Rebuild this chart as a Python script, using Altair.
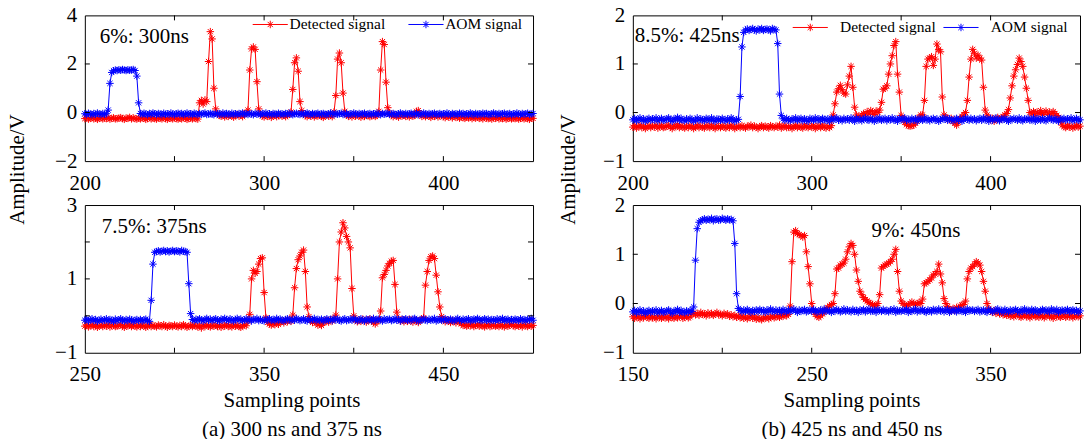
import altair as alt
import pandas as pd

FONT = "Liberation Serif"
RED = "#ff0000"
BLUE = "#0000ff"
SERIES = ["Detected signal", "AOM signal"]
STAR = "M-1,0L1,0M0,-1L0,1M-0.7,-0.7L0.7,0.7M-0.7,0.7L0.7,-0.7"
LEGSYM = "M-4.7,0L4.7,0M0,-1L0,1M-0.7,-0.7L0.7,0.7M-0.7,0.7L0.7,-0.7"

# ---------------- data (sampling point start + one value per sample) ----------------
a_top_x0 = 200
a_top_red = [
    -0.25, -0.22, -0.27, -0.24, -0.21, -0.26, -0.23, -0.28, -0.24, -0.22,
    -0.26, -0.23, -0.25, -0.21, -0.27, -0.24, -0.22, -0.26, -0.25, -0.23,
    -0.21, -0.25, -0.28, -0.23, -0.24, -0.20, -0.26, -0.22, -0.25, -0.27,
    -0.23, -0.26, -0.22, -0.24, -0.28, -0.25, -0.21, -0.26, -0.23, -0.25,
    -0.27, -0.22, -0.24, -0.26, -0.21, -0.25, -0.28, -0.23, -0.24, -0.26,
    -0.22, -0.25, -0.27, -0.23, -0.26, -0.21, -0.24, -0.28, -0.25, -0.23,
    -0.26, -0.22, -0.25, -0.27, 0.40, 0.50, 0.35, 0.52, 0.45, 2.10,
    3.33, 3.03, 1.00, 0.15, -0.05, -0.12, -0.15, -0.10, -0.18, -0.13,
    -0.16, -0.10, -0.14, -0.19, -0.12, -0.08, -0.15, -0.11, -0.17, -0.05,
    -0.02, 0.10, 1.75, 2.62, 2.70, 2.60, 1.27, 0.15, -0.08, -0.14,
    -0.18, -0.12, -0.16, -0.10, -0.20, -0.14, -0.11, -0.17, -0.13, -0.09,
    -0.15, -0.11, -0.17, -0.12, -0.08, 0.02, 0.95, 2.05, 2.25, 1.70,
    0.45, 0.08, -0.06, -0.13, -0.17, -0.11, -0.15, -0.09, -0.18, -0.12,
    -0.14, -0.10, -0.16, -0.20, -0.13, -0.09, -0.15, -0.12, -0.17, 0.02,
    0.70, 2.20, 2.45, 2.05, 0.80, 0.05, -0.10, -0.16, -0.12, -0.18,
    -0.11, -0.15, -0.09, -0.14, -0.19, -0.12, -0.16, -0.10, -0.13, -0.17,
    -0.14, -0.10, -0.16, -0.12, 0.05, 1.75, 2.92, 2.80, 1.25, 0.20,
    -0.02, -0.12, -0.17, -0.10, -0.15, -0.19, -0.11, -0.14, -0.09, -0.16,
    -0.13, -0.18, -0.10, -0.15, -0.12, 0.05, 0.08, -0.08, -0.16, -0.12,
    -0.17, -0.11, -0.15, -0.20, -0.13, -0.16, -0.10, -0.18, -0.14, -0.12,
    -0.17, -0.21, -0.14, -0.19, -0.16, -0.22, -0.15, -0.20, -0.18, -0.23,
    -0.17, -0.21, -0.24, -0.19, -0.22, -0.18, -0.25, -0.20, -0.23, -0.19,
    -0.24, -0.21, -0.26, -0.20, -0.23, -0.25, -0.21, -0.27, -0.22, -0.24,
    -0.20, -0.26, -0.23, -0.25, -0.21, -0.27, -0.24, -0.22, -0.26, -0.23,
    -0.25, -0.21, -0.27, -0.24, -0.22, -0.26, -0.23, -0.25, -0.28, -0.22,
    -0.24,
]
a_top_blue = [
    -0.05, -0.08, -0.03, -0.06, -0.09, -0.04, -0.07, -0.02, -0.06, -0.08,
    -0.04, -0.07, -0.05, 0.10, 1.20, 1.65, 1.72, 1.75, 1.73, 1.76,
    1.74, 1.77, 1.75, 1.73, 1.76, 1.74, 1.75, 1.77, 1.73, 1.50,
    0.40, -0.04, -0.07, -0.03, -0.06, -0.09, -0.04, -0.07, -0.02, -0.05,
    -0.08, -0.04, -0.06, -0.09, -0.03, -0.07, -0.05, -0.08, -0.02, -0.06,
    -0.09, -0.05, -0.03, -0.07, -0.04, -0.08, -0.06, -0.02, -0.07, -0.05,
    -0.08, -0.03, -0.06, -0.09, -0.04, -0.07, -0.05, -0.02, -0.08, -0.06,
    -0.04, -0.07, -0.09, -0.03, -0.06, -0.05, -0.08, -0.02, -0.07, -0.04,
    -0.06, -0.09, -0.03, -0.07, -0.05, -0.08, -0.04, -0.06, -0.02, -0.07,
    -0.05, -0.08, -0.04, -0.06, -0.09, -0.03, -0.07, -0.05, -0.08, -0.04,
    -0.06, -0.02, -0.07, -0.05, -0.09, -0.04, -0.06, -0.08, -0.03, -0.07,
    -0.05, -0.08, -0.04, -0.06, -0.02, -0.07, -0.09, -0.05, -0.03, -0.06,
    -0.08, -0.04, -0.07, -0.05, -0.02, -0.06, -0.09, -0.04, -0.07, -0.05,
    -0.03, -0.08, -0.06, -0.04, -0.07, -0.09, -0.05, -0.02, -0.06, -0.08,
    -0.04, -0.07, -0.05, -0.03, -0.08, -0.06, -0.04, -0.09, -0.05, -0.07,
    -0.02, -0.06, -0.08, -0.04, -0.07, -0.05, -0.03, -0.09, -0.06, -0.04,
    -0.08, -0.05, -0.07, -0.02, -0.06, -0.09, -0.04, -0.07, -0.05, -0.03,
    -0.08, -0.06, -0.04, -0.07, -0.09, -0.05, -0.02, -0.06, -0.08, -0.04,
    -0.07, -0.05, -0.03, -0.08, -0.06, -0.04, -0.09, -0.05, -0.07, -0.02,
    -0.06, -0.08, -0.04, -0.07, -0.05, -0.03, -0.09, -0.06, -0.04, -0.08,
    -0.05, -0.07, -0.02, -0.06, -0.09, -0.04, -0.07, -0.05, -0.08, -0.03,
    -0.06, -0.04, -0.08, -0.05, -0.07, -0.02, -0.06, -0.09, -0.04, -0.07,
    -0.05, -0.08, -0.03, -0.06, -0.04, -0.07, -0.09, -0.05, -0.02, -0.06,
    -0.08, -0.04, -0.07, -0.05, -0.03, -0.08, -0.06, -0.04, -0.09, -0.05,
    -0.07, -0.02, -0.06, -0.08, -0.04, -0.07, -0.05, -0.03, -0.08, -0.06,
    -0.04,
]

a_bot_x0 = 250
a_bot_red = [
    -0.28, -0.25, -0.30, -0.27, -0.24, -0.29, -0.26, -0.31, -0.27, -0.25,
    -0.29, -0.26, -0.28, -0.24, -0.30, -0.27, -0.25, -0.29, -0.28, -0.26,
    -0.24, -0.28, -0.31, -0.26, -0.27, -0.23, -0.29, -0.25, -0.28, -0.30,
    -0.26, -0.29, -0.25, -0.27, -0.31, -0.28, -0.24, -0.29, -0.26, -0.28,
    -0.30, -0.25, -0.27, -0.29, -0.24, -0.28, -0.31, -0.26, -0.27, -0.29,
    -0.25, -0.28, -0.30, -0.26, -0.29, -0.24, -0.27, -0.31, -0.28, -0.26,
    -0.29, -0.25, -0.28, -0.30, -0.27, -0.33, -0.26, -0.29, -0.24, -0.28,
    -0.30, -0.26, -0.28, -0.25, -0.29, -0.27, -0.31, -0.26, -0.28, -0.24,
    -0.29, -0.27, -0.30, -0.25, -0.28, -0.26, -0.29, -0.31, -0.27, -0.25,
    -0.27, -0.15, 0.04, 1.00, 1.23, 1.15, 1.20, 1.40, 1.55, 1.57,
    0.63, -0.05, -0.18, -0.22, -0.25, -0.21, -0.24, -0.19, -0.23, -0.17,
    -0.14, -0.19, -0.12, -0.16, -0.10, -0.15, 0.02, 0.76, 1.28, 1.52,
    1.62, 1.72, 1.78, 1.20, 0.24, -0.02, -0.12, -0.18, -0.14, -0.20,
    -0.25, -0.22, -0.26, -0.19, -0.15, -0.12, -0.17, -0.10, -0.14, -0.08,
    0.02, 1.00, 2.00, 2.27, 2.52, 2.38, 2.15, 2.00, 1.84, 0.74,
    0.00, -0.12, -0.16, -0.11, -0.15, -0.09, -0.13, -0.17, -0.12, -0.08,
    -0.14, -0.18, -0.22, -0.16, -0.11, 0.13, 1.03, 1.12, 1.23, 1.35,
    1.42, 1.48, 1.50, 0.85, 0.10, -0.08, -0.14, -0.10, -0.16, -0.12,
    -0.15, -0.09, -0.13, -0.17, -0.11, -0.14, -0.18, -0.12, -0.10, -0.05,
    0.83, 1.20, 1.50, 1.60, 1.62, 1.55, 1.10, 0.65, 0.24, -0.02,
    -0.12, -0.16, -0.11, -0.14, -0.18, -0.12, -0.15, -0.19, -0.13, -0.17,
    -0.22, -0.26, -0.24, -0.28, -0.25, -0.27, -0.23, -0.29, -0.26, -0.24,
    -0.28, -0.25, -0.27, -0.30, -0.26, -0.24, -0.29, -0.27, -0.25, -0.28,
    -0.26, -0.29, -0.24, -0.27, -0.30, -0.25, -0.28, -0.26, -0.23, -0.27,
    -0.29, -0.25, -0.28, -0.26, -0.30, -0.24, -0.27, -0.29, -0.25, -0.28,
    -0.26,
]
a_bot_blue = [
    -0.12, -0.09, -0.14, -0.11, -0.08, -0.13, -0.10, -0.15, -0.12, -0.09,
    -0.13, -0.11, -0.08, -0.14, -0.10, -0.12, -0.15, -0.09, -0.13, -0.11,
    -0.08, -0.12, -0.14, -0.10, -0.13, -0.09, -0.11, -0.15, -0.12, -0.10,
    -0.13, -0.10, -0.14, -0.11, -0.09, -0.13, -0.15, 0.42, 1.40, 1.72,
    1.74, 1.76, 1.73, 1.75, 1.77, 1.74, 1.76, 1.73, 1.75, 1.77,
    1.74, 1.76, 1.75, 1.73, 1.77, 1.75, 1.74, 1.72, 0.87, 0.06,
    -0.10, -0.13, -0.09, -0.12, -0.08, -0.11, -0.14, -0.10, -0.07, -0.12,
    -0.09, -0.13, -0.10, -0.08, -0.12, -0.14, -0.09, -0.11, -0.07, -0.10,
    -0.13, -0.08, -0.11, -0.14, -0.10, -0.07, -0.12, -0.09, -0.13, -0.11,
    -0.08, -0.12, -0.10, -0.14, -0.09, -0.11, -0.07, -0.13, -0.10, -0.12,
    -0.14, -0.09, -0.11, -0.08, -0.12, -0.10, -0.13, -0.07, -0.11, -0.09,
    -0.12, -0.14, -0.10, -0.08, -0.11, -0.13, -0.09, -0.12, -0.07, -0.10,
    -0.13, -0.11, -0.08, -0.12, -0.14, -0.09, -0.11, -0.10, -0.07, -0.13,
    -0.10, -0.12, -0.09, -0.14, -0.11, -0.08, -0.12, -0.10, -0.13, -0.07,
    -0.11, -0.09, -0.12, -0.14, -0.10, -0.08, -0.13, -0.11, -0.09, -0.12,
    -0.07, -0.10, -0.13, -0.11, -0.08, -0.12, -0.14, -0.09, -0.11, -0.10,
    -0.13, -0.07, -0.12, -0.10, -0.09, -0.11, -0.14, -0.08, -0.12, -0.10,
    -0.09, -0.13, -0.11, -0.07, -0.12, -0.10, -0.14, -0.09, -0.11, -0.08,
    -0.12, -0.10, -0.13, -0.09, -0.07, -0.11, -0.14, -0.10, -0.12, -0.08,
    -0.11, -0.13, -0.09, -0.12, -0.10, -0.07, -0.14, -0.11, -0.09, -0.12,
    -0.10, -0.08, -0.13, -0.11, -0.09, -0.12, -0.14, -0.10, -0.07, -0.11,
    -0.13, -0.09, -0.12, -0.10, -0.08, -0.14, -0.11, -0.09, -0.12, -0.07,
    -0.10, -0.13, -0.11, -0.08, -0.12, -0.09, -0.14, -0.10, -0.11, -0.13,
    -0.08, -0.12, -0.10, -0.07, -0.13, -0.11, -0.09, -0.14, -0.10, -0.12,
    -0.09, -0.11, -0.13, -0.08, -0.12, -0.10, -0.14, -0.09, -0.11, -0.07,
    -0.12,
]

b_top_x0 = 200
b_top_red = [
    -0.30, -0.27, -0.32, -0.29, -0.26, -0.31, -0.28, -0.33, -0.29, -0.27,
    -0.31, -0.28, -0.30, -0.26, -0.32, -0.29, -0.27, -0.31, -0.30, -0.28,
    -0.26, -0.30, -0.33, -0.28, -0.29, -0.25, -0.31, -0.27, -0.30, -0.32,
    -0.28, -0.31, -0.27, -0.29, -0.33, -0.30, -0.26, -0.31, -0.28, -0.30,
    -0.32, -0.27, -0.29, -0.31, -0.26, -0.30, -0.33, -0.28, -0.29, -0.31,
    -0.27, -0.30, -0.32, -0.28, -0.31, -0.26, -0.29, -0.33, -0.30, -0.28,
    -0.31, -0.27, -0.30, -0.32, -0.28, -0.29, -0.26, -0.31, -0.28, -0.30,
    -0.33, -0.29, -0.27, -0.31, -0.28, -0.30, -0.32, -0.27, -0.29, -0.31,
    -0.28, -0.30, -0.26, -0.32, -0.29, -0.27, -0.31, -0.30, -0.28, -0.33,
    -0.29, -0.27, -0.31, -0.28, -0.30, -0.32, -0.26, -0.29, -0.31, -0.28,
    -0.30, -0.27, -0.33, -0.29, -0.28, -0.31, -0.26, -0.30, -0.32, -0.28,
    -0.31, -0.27, -0.05, 0.18, 0.42, 0.49, 0.56, 0.47, 0.40, 0.38,
    0.57, 0.75, 0.95, 0.52, 0.11, -0.05, -0.08, -0.12, -0.06, -0.02,
    -0.05, 0.02, -0.03, 0.04, 0.01, -0.04, 0.03, 0.00, 0.05, 0.21,
    0.48, 0.50, 0.55, 0.79, 1.00, 1.17, 1.38, 1.46, 0.79, 0.42,
    -0.06, -0.12, -0.20, -0.25, -0.27, -0.28, -0.27, -0.26, -0.22, -0.15,
    -0.10, -0.05, -0.05, 0.25, 0.95, 1.10, 1.12, 1.15, 0.97, 1.10,
    1.41, 1.30, 1.25, 0.32, -0.05, -0.10, -0.12, -0.15, -0.12, -0.18,
    -0.22, -0.26, -0.20, -0.12, -0.08, -0.05, 0.00, 0.25, 0.73, 1.10,
    1.30, 1.22, 1.12, 1.18, 1.12, 1.08, 0.52, 0.05, -0.05, -0.10,
    -0.15, -0.12, -0.18, -0.14, -0.10, -0.16, -0.12, -0.08, -0.05, -0.02,
    0.06, 0.30, 0.55, 0.75, 0.88, 0.99, 1.12, 1.05, 0.95, 0.73,
    0.50, 0.25, 0.00, -0.03, 0.02, -0.05, 0.01, -0.02, 0.04, -0.04,
    0.00, 0.03, -0.03, 0.01, -0.05, 0.02, -0.02, -0.06, -0.10, -0.18,
    -0.26, -0.29, -0.31, -0.27, -0.30, -0.28, -0.32, -0.29, -0.27, -0.30,
    -0.28,
]
b_top_blue = [
    -0.15, -0.12, -0.17, -0.14, -0.11, -0.16, -0.13, -0.18, -0.14, -0.12,
    -0.16, -0.13, -0.15, -0.11, -0.17, -0.14, -0.12, -0.16, -0.15, -0.13,
    -0.11, -0.15, -0.18, -0.13, -0.14, -0.10, -0.16, -0.12, -0.15, -0.17,
    -0.13, -0.16, -0.12, -0.14, -0.18, -0.15, -0.11, -0.16, -0.13, -0.15,
    -0.17, -0.12, -0.14, -0.16, -0.11, -0.15, -0.18, -0.13, -0.14, -0.16,
    -0.12, -0.15, -0.17, -0.13, -0.16, -0.11, -0.14, -0.18, -0.15, -0.14,
    0.33, 1.35, 1.65, 1.70, 1.72, 1.69, 1.71, 1.73, 1.70, 1.68,
    1.72, 1.70, 1.73, 1.69, 1.71, 1.72, 1.70, 1.68, 1.73, 1.71,
    1.70, 1.42, 0.38, -0.06, -0.13, -0.16, -0.12, -0.15, -0.17, -0.13,
    -0.15, -0.11, -0.16, -0.14, -0.12, -0.17, -0.13, -0.15, -0.18, -0.12,
    -0.14, -0.16, -0.11, -0.15, -0.13, -0.17, -0.12, -0.14, -0.16, -0.13,
    -0.18, -0.12, -0.15, -0.13, -0.11, -0.16, -0.14, -0.17, -0.12, -0.15,
    -0.13, -0.16, -0.11, -0.14, -0.18, -0.12, -0.15, -0.13, -0.17, -0.14,
    -0.11, -0.15, -0.16, -0.12, -0.14, -0.18, -0.13, -0.15, -0.11, -0.16,
    -0.14, -0.12, -0.17, -0.13, -0.15, -0.11, -0.16, -0.14, -0.18, -0.12,
    -0.15, -0.13, -0.11, -0.16, -0.14, -0.17, -0.12, -0.15, -0.13, -0.18,
    -0.12, -0.14, -0.16, -0.11, -0.15, -0.13, -0.17, -0.14, -0.12, -0.16,
    -0.13, -0.18, -0.15, -0.12, -0.14, -0.11, -0.16, -0.13, -0.15, -0.17,
    -0.14, -0.12, -0.16, -0.13, -0.18, -0.15, -0.11, -0.14, -0.16, -0.12,
    -0.15, -0.13, -0.17, -0.14, -0.12, -0.16, -0.11, -0.15, -0.13, -0.18,
    -0.12, -0.16, -0.14, -0.11, -0.15, -0.17, -0.13, -0.14, -0.12, -0.16,
    -0.18, -0.13, -0.15, -0.12, -0.14, -0.16, -0.11, -0.15, -0.17, -0.13,
    -0.14, -0.12, -0.16, -0.15, -0.11, -0.18, -0.13, -0.14, -0.16, -0.12,
    -0.15, -0.17, -0.13, -0.11, -0.14, -0.16, -0.12, -0.15, -0.18, -0.13,
    -0.14, -0.12, -0.16, -0.13, -0.15, -0.11, -0.17, -0.14, -0.12, -0.16,
    -0.15,
]

b_bot_x0 = 150
b_bot_red = [
    -0.27, -0.30, -0.25, -0.28, -0.31, -0.26, -0.29, -0.24, -0.28, -0.30,
    -0.26, -0.29, -0.27, -0.31, -0.25, -0.28, -0.30, -0.26, -0.29, -0.27,
    -0.31, -0.25, -0.28, -0.30, -0.26, -0.29, -0.27, -0.24, -0.30, -0.28,
    -0.26, -0.29, -0.27, -0.22, -0.19, -0.23, -0.20, -0.24, -0.18, -0.22,
    -0.21, -0.25, -0.19, -0.23, -0.20, -0.24, -0.21, -0.18, -0.23, -0.22,
    -0.25, -0.20, -0.24, -0.21, -0.26, -0.23, -0.27, -0.24, -0.28, -0.25,
    -0.29, -0.26, -0.30, -0.27, -0.31, -0.28, -0.25, -0.30, -0.27, -0.32,
    -0.28, -0.31, -0.33, -0.29, -0.30, -0.27, -0.31, -0.28, -0.26, -0.29,
    -0.27, -0.25, -0.28, -0.24, -0.26, -0.23, -0.25, -0.22, -0.05, 0.85,
    1.45, 1.48, 1.42, 1.40, 1.38, 1.35, 1.38, 1.05, 0.75, 0.40,
    0.00, -0.15, -0.22, -0.26, -0.28, -0.25, -0.21, -0.17, -0.12, -0.08,
    -0.05, -0.02, 0.00, 0.20, 0.70, 0.72, 0.78, 0.80, 0.82, 0.90,
    1.05, 1.15, 1.22, 1.18, 1.00, 0.68, 0.45, 0.25, 0.18, 0.12,
    0.08, 0.05, 0.02, 0.00, -0.02, -0.05, -0.04, 0.00, 0.18, 0.72,
    0.75, 0.78, 0.80, 0.82, 0.85, 0.90, 1.00, 1.10, 0.65, 0.25,
    0.05, 0.00, -0.03, -0.05, -0.03, 0.00, 0.03, 0.00, -0.02, 0.00,
    0.02, 0.00, 0.09, 0.40, 0.42, 0.45, 0.48, 0.52, 0.58, 0.60,
    0.65, 0.80, 0.60, 0.42, 0.10, 0.00, -0.06, -0.12, -0.15, -0.10,
    -0.14, -0.08, -0.12, -0.05, -0.03, -0.02, 0.05, 0.50, 0.65, 0.72,
    0.75, 0.80, 0.85, 0.82, 0.78, 0.65, 0.45, 0.25, 0.00, -0.10,
    -0.15, -0.18, -0.14, -0.20, -0.17, -0.21, -0.19, -0.23, -0.20, -0.24,
    -0.22, -0.26, -0.23, -0.27, -0.24, -0.21, -0.26, -0.28, -0.25, -0.23,
    -0.27, -0.24, -0.29, -0.25, -0.22, -0.27, -0.25, -0.28, -0.24, -0.26,
    -0.29, -0.25, -0.23, -0.27, -0.26, -0.30, -0.24, -0.27, -0.25, -0.28,
    -0.26, -0.23, -0.28, -0.25, -0.27, -0.24, -0.29, -0.26, -0.25, -0.27,
    -0.25,
]
b_bot_blue = [
    -0.17, -0.14, -0.19, -0.16, -0.13, -0.18, -0.15, -0.20, -0.16, -0.14,
    -0.18, -0.15, -0.17, -0.13, -0.19, -0.16, -0.14, -0.18, -0.17, -0.15,
    -0.13, -0.17, -0.20, -0.15, -0.16, -0.12, -0.18, -0.14, -0.17, -0.19,
    -0.15, -0.18, -0.14, -0.16, -0.07, 0.88, 1.52, 1.65, 1.68, 1.70,
    1.72, 1.69, 1.71, 1.70, 1.73, 1.68, 1.71, 1.72, 1.69, 1.70,
    1.73, 1.71, 1.69, 1.72, 1.70, 1.71, 1.68, 1.22, 0.20, -0.10,
    -0.14, -0.17, -0.13, -0.16, -0.12, -0.15, -0.18, -0.14, -0.16, -0.13,
    -0.17, -0.12, -0.15, -0.14, -0.18, -0.13, -0.16, -0.11, -0.15, -0.17,
    -0.13, -0.16, -0.14, -0.18, -0.12, -0.15, -0.17, -0.13, -0.16, -0.14,
    -0.11, -0.15, -0.18, -0.13, -0.16, -0.14, -0.12, -0.17, -0.15, -0.13,
    -0.16, -0.12, -0.14, -0.18, -0.15, -0.13, -0.17, -0.11, -0.16, -0.14,
    -0.15, -0.18, -0.13, -0.16, -0.12, -0.14, -0.17, -0.15, -0.11, -0.16,
    -0.13, -0.15, -0.17, -0.12, -0.16, -0.14, -0.18, -0.13, -0.15, -0.12,
    -0.17, -0.14, -0.11, -0.16, -0.15, -0.13, -0.18, -0.12, -0.14, -0.16,
    -0.12, -0.16, -0.14, -0.17, -0.13, -0.15, -0.11, -0.18, -0.14, -0.15,
    -0.16, -0.13, -0.15, -0.12, -0.18, -0.14, -0.16, -0.13, -0.11, -0.17,
    -0.14, -0.15, -0.12, -0.16, -0.18, -0.13, -0.15, -0.17, -0.12, -0.14,
    -0.16, -0.11, -0.15, -0.13, -0.17, -0.14, -0.12, -0.18, -0.15, -0.13,
    -0.15, -0.17, -0.12, -0.14, -0.16, -0.13, -0.18, -0.11, -0.15, -0.14,
    -0.13, -0.16, -0.14, -0.12, -0.17, -0.15, -0.13, -0.16, -0.18, -0.12,
    -0.14, -0.17, -0.15, -0.13, -0.11, -0.16, -0.14, -0.18, -0.12, -0.15,
    -0.17, -0.13, -0.16, -0.14, -0.12, -0.15, -0.18, -0.13, -0.16, -0.11,
    -0.15, -0.14, -0.17, -0.12, -0.16, -0.13, -0.15, -0.18, -0.14, -0.12,
    -0.16, -0.13, -0.15, -0.17, -0.11, -0.14, -0.16, -0.12, -0.18, -0.15,
    -0.13, -0.16, -0.14, -0.12, -0.17, -0.15, -0.13, -0.16, -0.14, -0.18,
    -0.15,
]

# axis settings per panel: domains, labelled values, interior tick marks
a_top_xdom, a_top_ydom = [200, 450], [-2, 4]
a_bot_xdom, a_bot_ydom = [250, 500], [-1, 3]
b_top_xdom, b_top_ydom = [200, 450], [-1, 2]
b_bot_xdom, b_bot_ydom = [150, 400], [-1, 2]
a_top_xlab, a_top_ylab = [200, 300, 400], [-2, 0, 2, 4]
a_bot_xlab, a_bot_ylab = [250, 350, 450], [-1, 1, 3]
b_top_xlab, b_top_ylab = [200, 300, 400], [-1, 0, 1, 2]
b_bot_xlab, b_bot_ylab = [150, 250, 350], [-1, 0, 1, 2]
a_top_xtk, a_top_ytk = [250, 300, 350, 400], [0, 2]
a_bot_xtk, a_bot_ytk = [300, 350, 400, 450], [0, 1, 2]
b_top_xtk, b_top_ytk = [250, 300, 350, 400], [0, 1]
b_bot_xtk, b_bot_ytk = [200, 250, 300, 350], [0, 1]

notes = ["6%: 300ns", "7.5%: 375ns", "8.5%: 425ns", "9%: 450ns"]
captions = ["(a) 300 ns and 375 ns", "(b) 425 ns and 450 ns"]
Y_TITLE = "Amplitude/V"
X_TITLE = "Sampling points"

W_A, W_B = 449, 448
H_TOP, H_BOT = 146, 148
TICK = 5
FS = 21
MSIZE = 56


def to_frame(x0, red, blue):
    rows = []
    for i, v in enumerate(red):
        rows.append({"x": x0 + i, "y": v, "s": SERIES[0]})
    for i, v in enumerate(blue):
        rows.append({"x": x0 + i, "y": v, "s": SERIES[1]})
    return pd.DataFrame(rows)


def panel(df, W, H, xdom, ydom, xlab, ylab, xtk, ytk, note, note_xy,
          legend=None, ytitle_x=None, xtitle=None, xtitle_x=None):
    xscale = alt.Scale(domain=xdom, nice=False, zero=False)
    yscale = alt.Scale(domain=ydom, nice=False, zero=False)
    common = dict(ticks=False, tickSize=0, domain=False, grid=False,
                  labelFont=FONT, labelFontSize=FS, labelColor="black",
                  labelFlush=False, labelOverlap=False, format="d")
    if xtitle is not None:
        xaxis = alt.Axis(values=xlab, labelPadding=11, title=xtitle,
                         titleFont=FONT, titleFontSize=FS, titleFontWeight="normal",
                         titleColor="black", titleX=xtitle_x, titleY=37,
                         titleBaseline="top", titleAlign="center", titleLineHeight=29,
                         **common)
    else:
        xaxis = alt.Axis(values=xlab, labelPadding=11, title=None, **common)
    if ytitle_x is not None:
        yaxis = alt.Axis(values=ylab, labelPadding=8, title=Y_TITLE,
                         titleFont=FONT, titleFontSize=FS, titleFontWeight="normal",
                         titleColor="black", titleX=ytitle_x, titleY=154,
                         titleAngle=270, titleBaseline="bottom", titleAlign="center",
                         **common)
    else:
        yaxis = alt.Axis(values=ylab, labelPadding=8, title=None, **common)

    X = alt.X("x:Q", scale=xscale, axis=xaxis)
    Y = alt.Y("y:Q", scale=yscale, axis=yaxis)
    C = alt.Color("s:N", scale=alt.Scale(domain=SERIES, range=[RED, BLUE]), legend=legend)

    base = alt.Chart(df)
    layers = []
    for name in SERIES:
        sub = base.transform_filter(alt.datum.s == name)
        layers.append(sub.mark_line(strokeWidth=1).encode(x=X, y=Y, color=C))
        layers.append(sub.mark_point(shape=STAR, filled=False, size=MSIZE, strokeWidth=1,
                                     opacity=1).encode(x=X, y=Y, color=C))

    # inward tick marks on all four edges, placed through the same scales
    xt = alt.Chart(pd.DataFrame({"x": xtk}))
    yt = alt.Chart(pd.DataFrame({"y": ytk}))
    layers.append(xt.mark_rule(color="black", strokeWidth=1).encode(
        x=X, y=alt.value(H), y2=alt.value(H - TICK)))
    layers.append(xt.mark_rule(color="black", strokeWidth=1).encode(
        x=X, y=alt.value(0), y2=alt.value(TICK)))
    layers.append(yt.mark_rule(color="black", strokeWidth=1).encode(
        y=Y, x=alt.value(0), x2=alt.value(TICK)))
    layers.append(yt.mark_rule(color="black", strokeWidth=1).encode(
        y=Y, x=alt.value(W), x2=alt.value(W - TICK)))

    layers.append(alt.Chart(pd.DataFrame({"t": [note]})).mark_text(
        align="left", baseline="middle", font=FONT, fontSize=FS, color="black").encode(
        text="t:N", x=alt.value(note_xy[0]), y=alt.value(note_xy[1])))

    return alt.layer(*layers).properties(width=W, height=H)


def make_legend(x, y, loff, colpad):
    return alt.Legend(orient="none", legendX=x, legendY=y, direction="horizontal",
                      columns=2, title=None, symbolType=LEGSYM, symbolSize=MSIZE,
                      symbolStrokeWidth=1, labelFont=FONT, labelFontSize=15.5,
                      labelColor="black", labelOffset=loff, columnPadding=colpad,
                      padding=0, rowPadding=0)


a_top = panel(to_frame(a_top_x0, a_top_red, a_top_blue), W_A, H_TOP, a_top_xdom, a_top_ydom,
              a_top_xlab, a_top_ylab, a_top_xtk, a_top_ytk, notes[0], (15, 21.5),
              legend=make_legend(178, 1, 11.5, 21), ytitle_x=-57)
a_bot = panel(to_frame(a_bot_x0, a_bot_red, a_bot_blue), W_A, H_BOT, a_bot_xdom, a_bot_ydom,
              a_bot_xlab, a_bot_ylab, a_bot_xtk, a_bot_ytk, notes[1], (17, 22),
              xtitle=[X_TITLE, captions[0]], xtitle_x=207)
b_top = panel(to_frame(b_top_x0, b_top_red, b_top_blue), W_B, H_TOP, b_top_xdom, b_top_ydom,
              b_top_xlab, b_top_ylab, b_top_xtk, b_top_ytk, notes[2], (2, 20.5),
              legend=make_legend(170, 4, 22, 5), ytitle_x=-54)
b_bot = panel(to_frame(b_bot_x0, b_bot_red, b_bot_blue), W_B, H_BOT, b_bot_xdom, b_bot_ydom,
              b_bot_xlab, b_bot_ylab, b_bot_xtk, b_bot_ytk, notes[3], (239, 26),
              xtitle=[X_TITLE, captions[1]], xtitle_x=219)

chart = alt.concat(
    a_top, b_top, a_bot, b_bot, columns=2,
    spacing={"row": 44, "column": 100}, bounds="flush",
).resolve_scale(color="independent").resolve_legend(color="independent").properties(
    padding={"left": 6, "top": 3, "right": 2, "bottom": 0},
    autosize=alt.AutoSizeParams(type="pad"),
    background="white",
).configure_view(stroke="black", strokeWidth=1)

chart.save("out.html", embed_options={"renderer": "svg", "actions": False})
